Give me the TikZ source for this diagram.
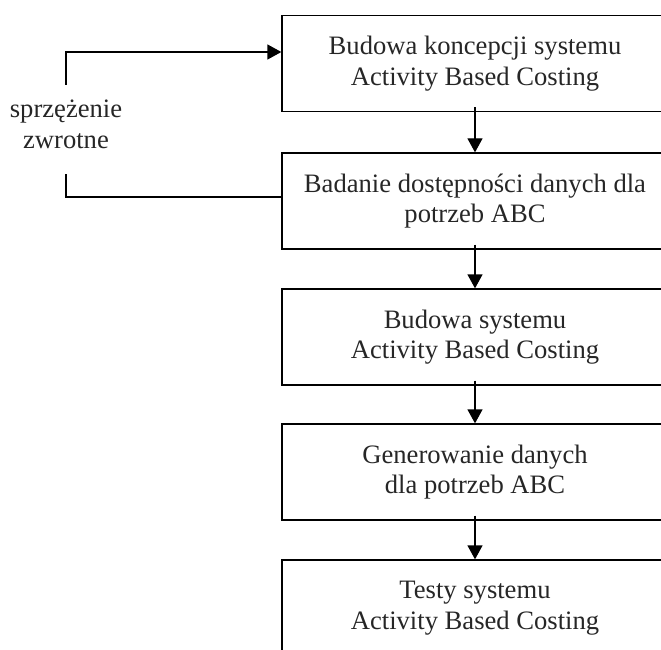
\documentclass[tikz,border=0pt]{standalone}
\usepackage{fontspec}
\setmainfont{Liberation Serif}
\usetikzlibrary{arrows.meta}
\begin{document}
\begin{tikzpicture}[x=1pt,y=-1pt,
  stepbox/.style={draw,line width=1.3pt,minimum width=386pt,minimum height=96pt,inner sep=0pt,align=center,
    font=\fontsize{26.6}{30.7}\selectfont,text=black!85},
  tip/.style={-{Triangle[length=14pt,width=15pt]}},
  link/.style={line width=1.3pt,tip,shorten <=-5pt},
  fb/.style={line width=1.3pt}]
\useasboundingbox (0,0) rectangle (661,650);
\node[stepbox] (b1) at (475,63.5) {Budowa koncepcji systemu\\Activity Based Costing};
\node[stepbox] (b2) at (475,201) {Badanie dostępności danych dla\\potrzeb ABC};
\node[stepbox] (b3) at (475,337) {Budowa systemu\\Activity Based Costing};
\node[stepbox] (b4) at (475,472) {Generowanie danych\\dla potrzeb ABC};
\node[stepbox] (b5) at (475,608) {Testy systemu\\Activity Based Costing};
\draw[link] (b1) -- (b2);
\draw[link] (b2) -- (b3);
\draw[link] (b3) -- (b4);
\draw[link] (b4) -- (b5);
\node[align=center,font=\fontsize{26.6}{30.7}\selectfont,text=black!85,inner sep=0pt] (lab) at (66,124) {sprzężenie\\zwrotne};
\coordinate (fa) at (66,85);
\coordinate (ft) at (66,52);
\coordinate (fb) at (66,174);
\coordinate (fc) at (66,197);
\draw[fb,tip] (fa) -- (ft) -- (b1.west |- ft);
\draw[fb] (fb) -- (fc) -- (b2.west |- fc);
\end{tikzpicture}
\end{document}
